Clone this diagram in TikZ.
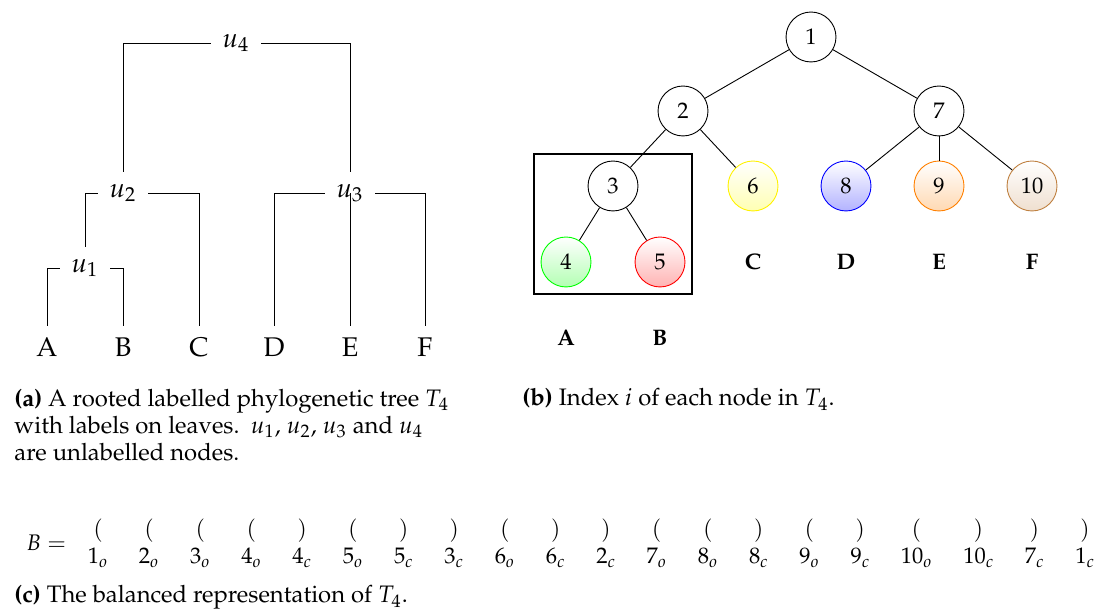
\documentclass[tikz,border=0pt]{standalone}
\usepackage[T1]{fontenc}
\usepackage{mathpazo}
\begin{document}
\begin{tikzpicture}[x=0.4444pt,y=-0.4444pt,
  unode/.style={inner sep=5pt, font=\large},
  dend/.style={line width=0.4pt},
  circ/.style={circle, draw, minimum size=22.2pt, inner sep=0pt, font=\normalsize},
  tedge/.style={line width=0.4pt},
  leaflab/.style={font=\bfseries},
  captext/.style={anchor=base west, inner sep=0pt, align=left, font=\fontsize{10.6}{12.2}\selectfont},
  tint/.style={draw=#1, top color=white, bottom color=#1!30}
]
\useasboundingbox (0,0) rectangle (1110,612);

% ---------- (a) dendrogram ----------
\node[unode] (u4) at (236,43) {$u_4$};
\node[unode] (u2) at (123,193) {$u_2$};
\node[unode] (u3) at (350,193) {$u_3$};
\node[unode] (u1) at (85,268) {$u_1$};
\foreach \n/\x in {A/47,B/123,C/199,D/274,E/350,F/425}
  \node[unode] (a\n) at (\x,347) {\n};

\draw[dend] (u4.west) -| (u2.north);
\draw[dend] (u4.east) -| (u3.north);
\draw[dend] (u2.west) -| (u1.north);
\draw[dend] (u2.east) -| (aC.north);
\draw[dend] (u1.west) -| (aA.north);
\draw[dend] (u1.east) -| (aB.north);
\draw[dend] (u3.west) -| (aD.north);
\draw[dend] (u3.east) -| (aF.north);
\draw[dend] (u3.center) -- (aE.north);

% ---------- (b) indexed tree ----------
\draw[semithick] (534,154) rectangle (692,294);
\node[circ, fill=white] (n1) at (811,37) {1};
\node[circ, fill=white] (n2) at (683,111) {2};
\node[circ, fill=white] (n7) at (939,111) {7};
\node[circ, fill=white] (n3) at (613,186) {3};
\node[circ, tint=yellow] (n6) at (753,186) {6};
\node[circ, tint=blue] (n8) at (846,186) {8};
\node[circ, tint=orange] (n9) at (939,186) {9};
\node[circ, draw=brown, top color=white, bottom color=brown!25] (n10) at (1032,186) {10};
\node[circ, tint=green] (n4) at (566,262) {4};
\node[circ, tint=red] (n5) at (660,262) {5};

\draw[tedge] (n1) -- (n2);
\draw[tedge] (n1) -- (n7);
\draw[tedge] (n2) -- (n3);
\draw[tedge] (n2) -- (n6);
\draw[tedge] (n3) -- (n4);
\draw[tedge] (n3) -- (n5);
\draw[tedge] (n7) -- (n8);
\draw[tedge] (n7) -- (n9);
\draw[tedge] (n7) -- (n10);

\node[leaflab] (bA) at (566,338) {A};
\node[leaflab] (bB) at (660,338) {B};
\node[leaflab] (bC) at (753,262) {C};
\node[leaflab] (bD) at (846,262) {D};
\node[leaflab] (bE) at (939,262) {E};
\node[leaflab] (bF) at (1032,262) {F};

% ---------- captions ----------
\node[captext] (capa) at (14,461) {\textbf{(a)} A rooted labelled phylogenetic tree $T_4$\\
  with labels on leaves.\hspace{5pt}$u_1$, $u_2$, $u_3$ and $u_4$\\
  are unlabelled nodes.};
\node[captext] (capb) at (522,406) {\textbf{(b)} Index $i$ of each node in $T_4$.};

% ---------- (c) balanced representation ----------
\node[anchor=west, inner sep=0pt] (barr) at (26,545)
  {\setlength{\arraycolsep}{6.8pt}$B = \begin{array}{*{20}{c}}
  ( & ( & ( & ( & ) & ( & ) & ) & ( & ) & ) & ( & ( & ) & ( & ) & ( & ) & ) & ) \\
  1_o & 2_o & 3_o & 4_o & 4_c & 5_o & 5_c & 3_c & 6_o & 6_c & 2_c & 7_o & 8_o & 8_c & 9_o & 9_c & 10_o & 10_c & 7_c & 1_c
  \end{array}$};
\node[captext] (capc) at (14,603) {\textbf{(c)} The balanced representation of $T_4$.};
\end{tikzpicture}
\end{document}
